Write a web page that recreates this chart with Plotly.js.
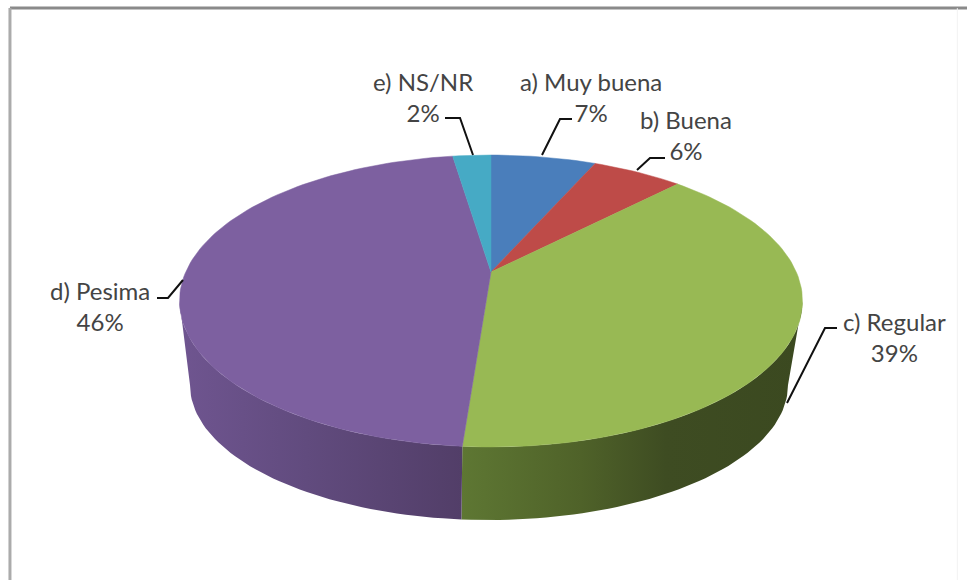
<!DOCTYPE html>
<html><head><meta charset="utf-8">
<script src="https://cdn.plot.ly/plotly-3.0.1.min.js"></script>
<style>html,body{margin:0;padding:0;background:#fff}#c{width:967px;height:580px}</style>
</head><body><div id="c"></div><script>
const categories = ["a) Muy buena","b) Buena","c) Regular","d) Pesima","e) NS/NR"];
const values = [6.6, 5.7, 38.9, 46.4, 2.4];
const percentLabels = ["7%","6%","39%","46%","2%"];
const colors = ["#4a7ebb","#be4b48","#98b954","#7d60a0","#46aac5"];
const labelCenters = [[591,97],[686,135],[894,337],[100,306],[423,97]];
const leaders = [
  [[572,119],[560,119],[542,155]],
  [[665,158],[650,158],[637,170]],
  [[837,328],[825,328],[787,403]],
  [[157,298],[168,298],[183,280]],
  [[445,118],[460,118],[473,155]]
];
const k = 0.1986;
const top_ = {cx:491, y0:272, A:140.2, B:305.3};
const low = {cx:489, cy:385, rx:299, ry:135};
const rad = d => d*Math.PI/180;
function topRim(deg){const s=Math.sin(rad(deg)),c=Math.cos(rad(deg)),d=1+k*c;
  return [top_.cx+top_.B*s/d, top_.y0-top_.A*c/d];}
function lowRim(deg){const B=low.rx*Math.sqrt(1-k*k),A=low.ry*(1-k*k),y0=low.cy-low.ry*k;
  const s=Math.sin(rad(deg)),c=Math.cos(rad(deg)),d=1+k*c;
  return [low.cx+B*s/d, y0-A*c/d];}
function range(a,b){const n=Math.max(2,Math.ceil(Math.abs(b-a)/1.5));const o=[];for(let i=0;i<=n;i++)o.push(a+(b-a)*i/n);return o;}
const total = values.reduce((p,v)=>p+v,0);
const cum=[0];values.forEach(v=>cum.push(cum[cum.length-1]+v/total*360));
const traces=[];
function sideTrace(a,b,stops){
  const up=range(a,b).map(topRim), dn=range(b,a).map(lowRim);
  const pts=up.concat(dn);pts.push(pts[0]);
  traces.push({type:'scatter',mode:'lines',x:pts.map(p=>p[0]),y:pts.map(p=>p[1]),fill:'toself',
    line:{width:0,color:stops[0][1]},fillgradient:{type:'horizontal',colorscale:stops},hoverinfo:'skip',showlegend:false});
}
const tangentR=Math.acos(-k)*180/Math.PI, tangentL=360-tangentR;
sideTrace(tangentR,cum[3],[[0,'#5e7733'],[0.35,'#4f6229'],[0.6,'#3e4c22'],[1,'#3b4920']]);
sideTrace(cum[3],tangentL,[[0,'#6f5590'],[0.45,'#614b7e'],[1,'#523e68']]);
values.forEach((v,i)=>{
  const pts=[[top_.cx,top_.y0]].concat(range(cum[i],cum[i+1]).map(topRim));pts.push(pts[0]);
  traces.push({type:'scatter',mode:'lines',x:pts.map(p=>p[0]),y:pts.map(p=>p[1]),fill:'toself',fillcolor:colors[i],
    line:{width:0.5,color:colors[i]},name:categories[i],hoverinfo:'skip',showlegend:false});
});
leaders.forEach(l=>traces.push({type:'scatter',mode:'lines',x:l.map(p=>p[0]),y:l.map(p=>p[1]),
  line:{width:2,color:'#111'},hoverinfo:'skip',showlegend:false}));
const annotations=categories.map((c,i)=>({x:labelCenters[i][0],y:labelCenters[i][1],xref:'x',yref:'y',showarrow:false,
  text:c+'<br>'+percentLabels[i],align:'center',xanchor:'center',yanchor:'middle',
  font:{family:'Lato, "Open Sans", sans-serif',size:24,color:'#444'}}));
const layout={width:967,height:580,margin:{l:0,r:0,t:0,b:0},paper_bgcolor:'#fff',plot_bgcolor:'#fff',showlegend:false,
  xaxis:{range:[0,967],visible:false,fixedrange:true},
  yaxis:{range:[580,0],visible:false,fixedrange:true},
  annotations,
  shapes:[
   {type:'line',xref:'paper',yref:'paper',x0:0.0103,x1:1,y0:0.986,y1:0.986,line:{color:'#8a8a8a',width:3}},
   {type:'line',xref:'paper',yref:'paper',x0:0.0103,x1:0.0103,y0:0,y1:0.986,line:{color:'#ababab',width:3}},
   {type:'line',xref:'paper',yref:'paper',x0:0.99,x1:0.99,y0:0,y1:0.986,line:{color:'#f2f2f2',width:1}}
  ]};
Plotly.newPlot('c',traces,layout,{displayModeBar:false,staticPlot:true});
</script></body></html>
